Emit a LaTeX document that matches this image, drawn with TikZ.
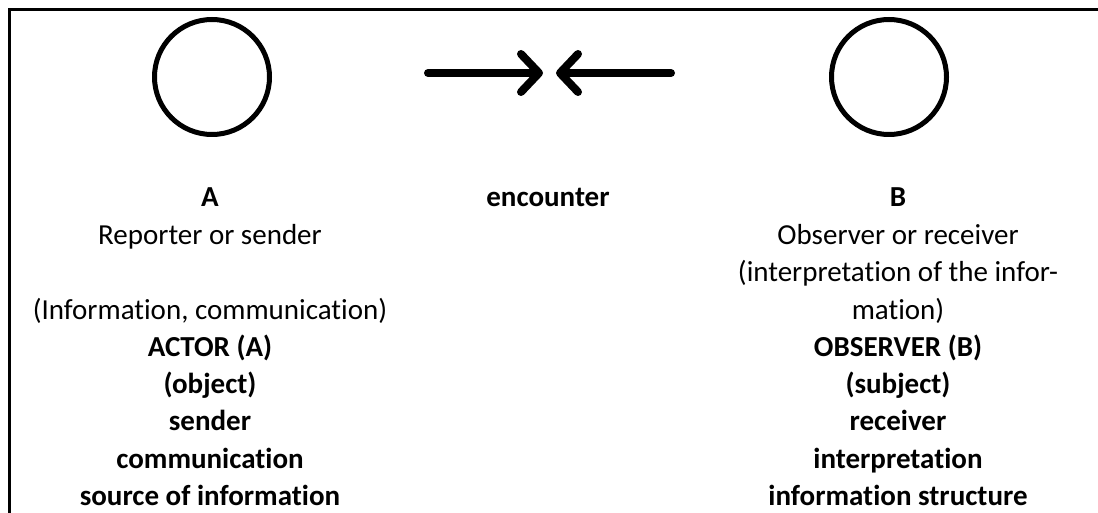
\documentclass[tikz,border=0pt]{standalone}
\usepackage{fontspec}
\setmainfont{Carlito}[RawFeature={-liga;-clig;-dlig}]
\usetikzlibrary{arrows.meta}

\tikzset{
  ring/.style={draw, circle, line width=5pt, minimum size=115pt, inner sep=0pt},
  push/.style={line width=8pt, line cap=round,
    -{Straight Barb[length=18pt, width=38pt, line cap=round, line join=round]}},
  lbl/.style={anchor=base, inner sep=0pt, font=\fontsize{29}{37}\selectfont},
  hd/.style={lbl, font=\fontsize{29}{37}\selectfont\bfseries}
}

\begin{document}
\begin{tikzpicture}[x=1pt, y=-1pt]
\useasboundingbox (0,0) rectangle (1098,513);
\draw[line width=2.5pt] (9.5,513) -- (9.5,9.5) -- (1098,9.5);

% the two parties
\node[ring] (circA) at (212,77) {};
\node[ring] (circB) at (889,77) {};

% encounter arrows
\coordinate (inA) at (428,73);
\coordinate (tipA) at (543,73);
\coordinate (inB) at (671,73);
\coordinate (tipB) at (556,73);
\draw[push] (inA) -- (tipA);
\draw[push] (inB) -- (tipB);

% left column
\node[hd] (titleA) at (210,207) {A};
\foreach \y/\txt [count=\i] in {244/Reporter or sender, 319/{(Information, communication)}}
  \node[lbl] (descA\i) at (210,\y) {\txt};
\foreach \y/\txt [count=\i] in {356/ACTOR (A), 393/(object), 430/sender, 468/communication, 505/source of information}
  \node[hd] (roleA\i) at (210,\y) {\txt};

% middle
\node[hd] (meet) at (548,207) {encounter};

% right column
\node[hd] (titleB) at (898,207) {B};
\foreach \y/\txt [count=\i] in {244/Observer or receiver, 281/(interpretation of the infor-, 319/mation)}
  \node[lbl] (descB\i) at (898,\y) {\txt};
\foreach \y/\txt [count=\i] in {356/OBSERVER (B), 393/(subject), 430/receiver, 468/interpretation, 505/information structure}
  \node[hd] (roleB\i) at (898,\y) {\txt};
\end{tikzpicture}
\end{document}
